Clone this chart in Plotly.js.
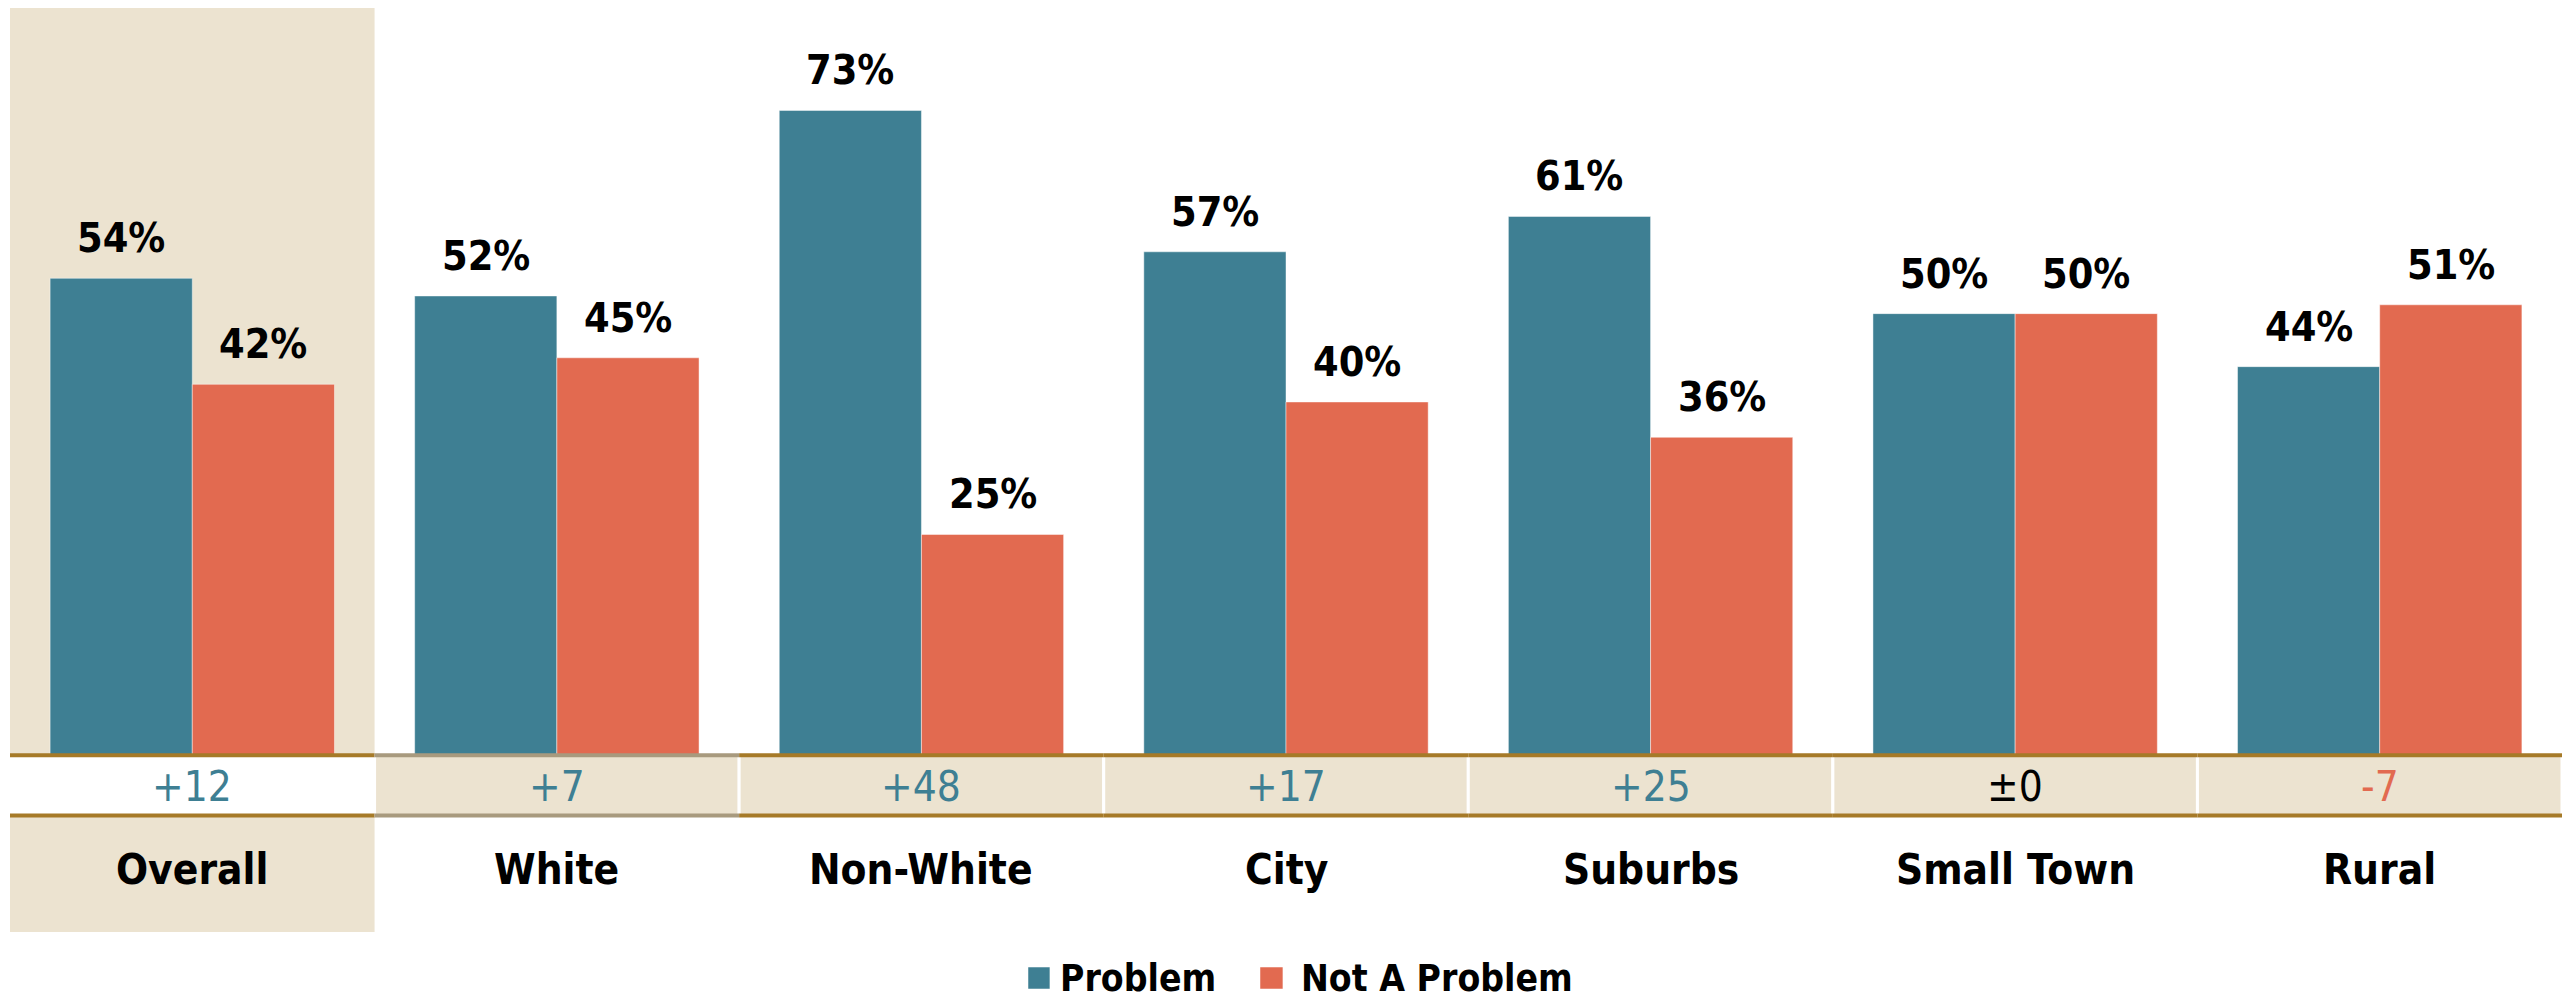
<!DOCTYPE html>
<html>
<head>
<meta charset="utf-8">
<script src="https://cdn.plot.ly/plotly-3.0.1.min.js"></script>
<style>html,body{margin:0;padding:0;background:#fff;}#chart{width:2572px;height:1001px;}</style>
</head>
<body>
<div id="chart"></div>
<script>
const categories = ["Overall", "White", "Non-White", "City", "Suburbs", "Small Town", "Rural"];
const problem = [54, 52, 73, 57, 61, 50, 44];
const notProblem = [42, 45, 25, 40, 36, 50, 51];
const margins = [12, 7, 48, 17, 25, 0, -7];
const seriesNames = ["Problem", "Not A Problem"];

const BLUE = "#3E7F93", ORANGE = "#E26A50", BEIGE = "#ECE3D0", GOLD = "#A67A28", GREYGOLD = "#A89A7E";
const FONT = "'Liberation Sans Narrow', 'DejaVu Sans Condensed', 'Arial Narrow', sans-serif";
const YTOP = 84.6, YBOT = -20, ROW = -6.8, LABELY = -12.9, DIFFY = -3.5;
const OFF = 0.195;

const traces = [
  {type: "bar", name: seriesNames[0], x: categories, y: problem, marker: {color: BLUE, line: {color: "rgba(255,255,255,0.45)", width: 1}}, showlegend: false, hoverinfo: "none"},
  {type: "bar", name: seriesNames[1], x: categories, y: notProblem, marker: {color: ORANGE, line: {color: "rgba(255,255,255,0.45)", width: 1}}, showlegend: false, hoverinfo: "none"}
];

const shapes = [];
const annotations = [];
// Overall highlighted column
shapes.push({type: "rect", xref: "x", yref: "y", x0: -0.5, x1: 0.5, y0: 0, y1: YTOP, fillcolor: BEIGE, line: {width: 0}, layer: "below"});
shapes.push({type: "rect", xref: "x", yref: "y", x0: -0.5, x1: 0.5, y0: ROW, y1: YBOT, fillcolor: BEIGE, line: {width: 0}, layer: "below"});

categories.forEach((c, i) => {
  if (i > 0) {
    shapes.push({type: "rect", xref: "x", yref: "y", x0: i - 0.5, x1: i + 0.5, y0: ROW, y1: 0, fillcolor: BEIGE, line: {color: "#ffffff", width: 3}, layer: "below"});
  }
  const lc = (i === 1) ? GREYGOLD : GOLD;
  shapes.push({type: "line", xref: "x", yref: "y", x0: i - 0.5, x1: i + 0.5, y0: 0, y1: 0, line: {color: lc, width: 4}});
  shapes.push({type: "line", xref: "x", yref: "y", x0: i - 0.5, x1: i + 0.5, y0: ROW, y1: ROW, line: {color: lc, width: 4}});

  // value labels
  annotations.push({x: i - OFF, y: problem[i], xref: "x", yref: "y", text: problem[i] + "%", showarrow: false, yanchor: "bottom", yshift: 14, font: {family: FONT, size: 41, color: "#000", weight: 700}});
  annotations.push({x: i + OFF, y: notProblem[i], xref: "x", yref: "y", text: notProblem[i] + "%", showarrow: false, yanchor: "bottom", yshift: 14, font: {family: FONT, size: 41, color: "#000", weight: 700}});

  // margin labels
  const m = margins[i];
  const mt = m > 0 ? "+" + m : (m === 0 ? "±0" : "-" + Math.abs(m));
  const mc = m > 0 ? BLUE : (m === 0 ? "#000" : ORANGE);
  annotations.push({x: i, y: DIFFY, xref: "x", yref: "y", text: mt, showarrow: false, yanchor: "middle", font: {family: FONT, size: 42, color: mc}});

  // category labels
  annotations.push({x: i, y: LABELY, xref: "x", yref: "y", text: c, showarrow: false, yanchor: "middle", font: {family: FONT, size: 42, color: "#000", weight: 700}});
});

// manual legend
const legendItems = [
  {name: seriesNames[0], color: BLUE, sx0: 0.3989, sx1: 0.4075, tx: 0.4107},
  {name: seriesNames[1], color: ORANGE, sx0: 0.4898, sx1: 0.4988, tx: 0.5051}
];
legendItems.forEach(li => {
  shapes.push({type: "rect", xref: "paper", yref: "paper", x0: li.sx0, x1: li.sx1, y0: -0.0379, y1: -0.0617, fillcolor: li.color, line: {color: "rgba(255,255,255,0.5)", width: 1}});
  annotations.push({x: li.tx, y: -0.0498, xref: "paper", yref: "paper", text: li.name, showarrow: false, xanchor: "left", yanchor: "middle", font: {family: FONT, size: 37, color: "#000", weight: 700}});
});

const layout = {
  width: 2572, height: 1001,
  margin: {l: 10, r: 10, t: 8, b: 69, pad: 0},
  paper_bgcolor: "#ffffff", plot_bgcolor: "rgba(0,0,0,0)",
  barmode: "group", bargap: 0.22, bargroupgap: 0,
  xaxis: {type: "category", range: [-0.5, 6.5], showticklabels: false, showgrid: false, zeroline: false, showline: false, ticks: "", fixedrange: true},
  yaxis: {range: [YBOT, YTOP], visible: false, showgrid: false, zeroline: false, fixedrange: true},
  showlegend: false,
  shapes: shapes,
  annotations: annotations,
  font: {family: FONT}
};

Plotly.newPlot("chart", traces, layout, {displayModeBar: false, staticPlot: true});
</script>
</body>
</html>
